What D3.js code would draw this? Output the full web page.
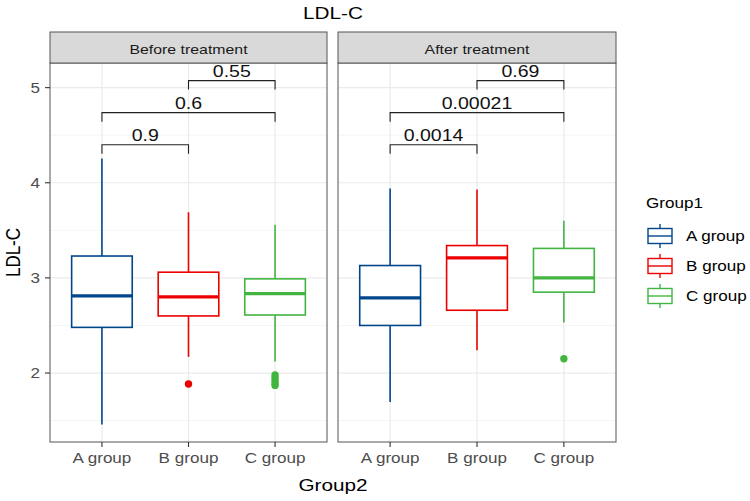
<!DOCTYPE html>
<html><head><meta charset="utf-8">
<script src="https://cdn.jsdelivr.net/npm/d3@7"></script>
<style>body{margin:0;background:#fff}svg{display:block}</style>
</head><body>
<svg id="c" width="750" height="501"></svg>
<script>
// ---- data ----
const categories = ["A group", "B group", "C group"];
const panelNames = ["Before treatment", "After treatment"];
// [lower whisker, Q1, median, Q3, upper whisker]
const beforeStats = [[1.46, 2.48, 2.81, 3.23, 4.255], [2.17, 2.60, 2.80, 3.06, 3.69], [2.12, 2.61, 2.835, 2.99, 3.56]];
const afterStats = [[1.695, 2.50, 2.79, 3.13, 3.94], [2.24, 2.66, 3.21, 3.34, 3.93], [2.53, 2.85, 3.00, 3.31, 3.60]];
const beforeOutliers = [[], [1.885], [1.98, 1.95, 1.92, 1.89, 1.87]];
const afterOutliers = [[], [], [2.15]];
const bracketPairs = [[0, 1], [0, 2], [1, 2]];
const bracketLevels = [4.40, 4.737, 5.074];
const beforePvals = ["0.9", "0.6", "0.55"];
const afterPvals = ["0.0014", "0.00021", "0.69"];
const yTicks = [2, 3, 4, 5];
const yMinor = [1.5, 2.5, 3.5, 4.5];
const colors = ["#00468B", "#ED0000", "#42B540"];

// ---- layout ----
const SX = 1.22; // horizontal text stretch seen in reference
const svg = d3.select("#c");
const font = "'Liberation Sans', Arial, sans-serif";
const panelX = [[50, 327], [338, 616]];
const stripTop = 32, panelTop = 63, panelBottom = 442;
const y = d3.scaleLinear().domain([1.275, 5.259]).range([panelBottom, panelTop]);

function txt(g, x, yy, s, size, fill, anchor, rot) {
  const t = g.append("text").text(s)
    .attr("font-family", font).attr("font-size", size).attr("fill", fill)
    .attr("text-anchor", anchor || "middle");
  if (rot) t.attr("transform", `translate(${x},${yy}) rotate(-90) scale(1,${SX})`);
  else t.attr("transform", `translate(${x},${yy}) scale(${SX},1)`);
  return t;
}

const statsList = [beforeStats, afterStats];
const outList = [beforeOutliers, afterOutliers];
const pList = [beforePvals, afterPvals];

panelNames.forEach((pn, pi) => {
  const [x0, x1] = panelX[pi];
  const x = d3.scalePoint().domain(categories).range([x0, x1]).padding(0.6);
  const g = svg.append("g");
  // background grid
  g.append("rect").attr("x", x0).attr("y", panelTop).attr("width", x1 - x0).attr("height", panelBottom - panelTop).attr("fill", "#fff");
  g.selectAll(".mn").data(yMinor).join("line")
    .attr("x1", x0).attr("x2", x1).attr("y1", d => y(d)).attr("y2", d => y(d))
    .attr("stroke", "#F2F2F2").attr("stroke-width", 0.8);
  g.selectAll(".mj").data(yTicks).join("line")
    .attr("x1", x0).attr("x2", x1).attr("y1", d => y(d)).attr("y2", d => y(d))
    .attr("stroke", "#EBEBEB").attr("stroke-width", 1.2);
  g.selectAll(".vx").data(categories).join("line")
    .attr("x1", d => x(d)).attr("x2", d => x(d)).attr("y1", panelTop).attr("y2", panelBottom)
    .attr("stroke", "#EBEBEB").attr("stroke-width", 1.2);

  const bw = x.step() * 0.7;
  const stats = statsList[pi];
  categories.forEach((c, ci) => {
    const s = stats[ci], cx = x(c), col = colors[ci];
    g.append("line").attr("x1", cx).attr("x2", cx).attr("y1", y(s[4])).attr("y2", y(s[3])).attr("stroke", col).attr("stroke-width", 1.6);
    g.append("line").attr("x1", cx).attr("x2", cx).attr("y1", y(s[1])).attr("y2", y(s[0])).attr("stroke", col).attr("stroke-width", 1.6);
    g.append("rect").attr("x", cx - bw / 2).attr("width", bw).attr("y", y(s[3])).attr("height", y(s[1]) - y(s[3]))
      .attr("fill", "#fff").attr("stroke", col).attr("stroke-width", 1.6);
    g.append("line").attr("x1", cx - bw / 2).attr("x2", cx + bw / 2).attr("y1", y(s[2])).attr("y2", y(s[2])).attr("stroke", col).attr("stroke-width", 3.2);
    g.selectAll(null).data(outList[pi][ci]).join("circle")
      .attr("cx", cx).attr("cy", d => y(d)).attr("r", 3.7).attr("fill", col);
  });

  // brackets
  bracketPairs.forEach((pr, bi) => {
    const xa = x(categories[pr[0]]), xb = x(categories[pr[1]]), yy = y(bracketLevels[bi]);
    g.append("path").attr("d", `M${xa},${yy + 9}V${yy}H${xb}V${yy + 9}`)
      .attr("fill", "none").attr("stroke", "#222").attr("stroke-width", 1.1);
    txt(g, (xa + xb) / 2, yy - 3.5, pList[pi][bi], 16, "#111");
  });

  // border
  g.append("rect").attr("x", x0).attr("y", panelTop).attr("width", x1 - x0).attr("height", panelBottom - panelTop)
    .attr("fill", "none").attr("stroke", "#555").attr("stroke-width", 1);
  // strip
  g.append("rect").attr("x", x0).attr("y", stripTop).attr("width", x1 - x0).attr("height", panelTop - stripTop)
    .attr("fill", "#D9D9D9").attr("stroke", "#555").attr("stroke-width", 1);
  txt(g, (x0 + x1) / 2, 54, pn, 13, "#1A1A1A");

  // x axis ticks
  categories.forEach(c => {
    g.append("line").attr("x1", x(c)).attr("x2", x(c)).attr("y1", panelBottom).attr("y2", panelBottom + 5).attr("stroke", "#333").attr("stroke-width", 1.1);
    txt(g, x(c), 463, c, 14, "#4D4D4D");
  });
});

// y axis
yTicks.forEach(t => {
  svg.append("line").attr("x1", 45).attr("x2", 50).attr("y1", y(t)).attr("y2", y(t)).attr("stroke", "#333").attr("stroke-width", 1.1);
  txt(svg, 40, y(t) + 5, String(t), 14, "#4D4D4D", "end");
});

// titles
txt(svg, 333, 19, "LDL-C", 17, "#000");
txt(svg, 333, 491, "Group2", 17, "#000");
txt(svg, 20, (panelTop + panelBottom) / 2, "LDL-C", 17, "#000", "middle", true);

// legend
const lg = svg.append("g");
txt(lg, 646, 208, "Group1", 14, "#000", "start");
categories.forEach((c, i) => {
  const cy = 236 + i * 30, col = colors[i];
  lg.append("line").attr("x1", 660).attr("x2", 660).attr("y1", cy - 12).attr("y2", cy + 12).attr("stroke", col).attr("stroke-width", 1.4);
  lg.append("rect").attr("x", 648).attr("y", cy - 7.5).attr("width", 24).attr("height", 15).attr("fill", "#fff").attr("stroke", col).attr("stroke-width", 1.4);
  lg.append("line").attr("x1", 648).attr("x2", 672).attr("y1", cy).attr("y2", cy).attr("stroke", col).attr("stroke-width", 1.4);
  txt(lg, 686, cy + 5, c, 14, "#000", "start");
});
</script>
</body></html>
